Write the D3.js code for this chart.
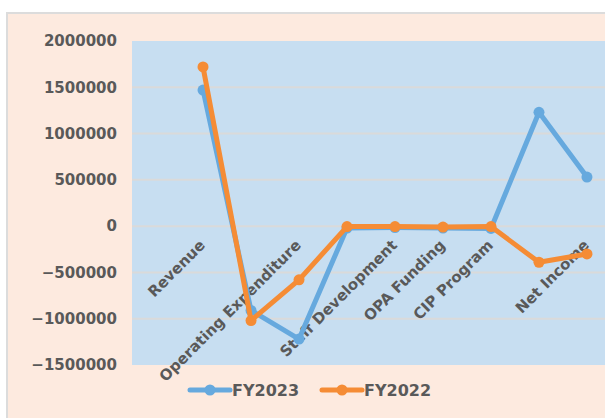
<!DOCTYPE html>
<html>
<head>
<meta charset="utf-8">
<script src="https://cdn.jsdelivr.net/npm/d3@7"></script>
<style>
  body { margin: 0; background: #fff; }
  svg { display: block; }
</style>
</head>
<body>
<svg></svg>
<script>
var categories = ['Revenue', '', 'Operating Expenditure', '', 'Staff Development', 'OPA Funding', 'CIP Program', '', 'Net Income'];
var fy2023 = [1470000, -910000, -1220000, -20000, -15000, -20000, -25000, 1230000, 530000];
var fy2022 = [1720000, -1020000, -580000, -5000, -5000, -10000, -5000, -390000, -300000];
var yTicks = [2000000, 1500000, 1000000, 500000, 0, -500000, -1000000, -1500000];
var seriesNames = ['FY2023', 'FY2022'];

var width = 605, height = 418;
var svg = d3.select('svg').attr('width', width).attr('height', height);

var colors = ['#66A9DE', '#F58C35'];
var textColor = '#595959';

// chart frame (cropped on the right and bottom)
svg.append('rect')
	.attr('x', 7).attr('y', 13)
	.attr('width', 620).attr('height', 420)
	.attr('fill', '#FDEADF')
	.attr('stroke', '#DCDCDC')
	.attr('stroke-width', 2);

var plot = { left: 132, top: 41, right: 658, bottom: 365 };

var x = d3.scalePoint()
	.domain(d3.range(categories.length))
	.range([plot.left, plot.right])
	.padding(1.48);

var y = d3.scaleLinear()
	.domain([-1500000, 2000000])
	.range([plot.bottom, plot.top]);

svg.append('rect')
	.attr('x', plot.left).attr('y', plot.top)
	.attr('width', plot.right - plot.left).attr('height', plot.bottom - plot.top)
	.attr('fill', '#C7DEF1');

// gridlines
svg.append('g')
	.selectAll('line')
	.data(yTicks.filter(function(d) { return d !== 2000000 && d !== -1500000; }))
	.enter()
	.append('line')
	.attr('x1', plot.left).attr('x2', plot.right)
	.attr('y1', function(d) { return y(d); })
	.attr('y2', function(d) { return y(d); })
	.attr('stroke', '#DADADA')
	.attr('stroke-width', 2);

// y axis labels
var yAxis = d3.axisLeft(y).tickValues(yTicks).tickSize(0).tickPadding(15).tickFormat(d3.format('d'));
svg.append('g')
	.attr('transform', 'translate(' + plot.left + ',0)')
	.call(yAxis)
	.call(function(g) { g.select('.domain').remove(); })
	.selectAll('text')
	.attr('fill', textColor)
	.style('font-family', 'DejaVu Sans, Verdana, sans-serif')
	.style('font-weight', 'bold')
	.style('font-size', '15px');

// category labels next to the zero line
svg.append('g')
	.selectAll('text')
	.data(categories)
	.enter()
	.append('text')
	.attr('transform', function(d, i) {
		return 'translate(' + (x(i) + 3) + ',' + (y(0) + 20) + ') rotate(-45)';
	})
	.attr('text-anchor', 'end')
	.attr('fill', textColor)
	.style('font-family', 'DejaVu Sans, Verdana, sans-serif')
	.style('font-weight', 'bold')
	.style('font-size', '15px')
	.text(function(d) { return d; });

// series
var line = d3.line()
	.x(function(d, i) { return x(i); })
	.y(function(d) { return y(d); });

[fy2023, fy2022].forEach(function(series, s) {
	var g = svg.append('g');
	g.append('path')
		.datum(series)
		.attr('d', line)
		.attr('fill', 'none')
		.attr('stroke', colors[s])
		.attr('stroke-width', 5)
		.attr('stroke-linejoin', 'round');
	g.selectAll('circle')
		.data(series)
		.enter()
		.append('circle')
		.attr('cx', function(d, i) { return x(i); })
		.attr('cy', function(d) { return y(d); })
		.attr('r', 5.5)
		.attr('fill', colors[s]);
});

// legend
var legend = svg.append('g').attr('transform', 'translate(190,390)');
seriesNames.forEach(function(name, i) {
	var item = legend.append('g').attr('transform', 'translate(' + (i * 132) + ',0)');
	item.append('line')
		.attr('x1', 0).attr('x2', 40)
		.attr('stroke', colors[i])
		.attr('stroke-width', 5)
		.attr('stroke-linecap', 'round');
	item.append('circle').attr('cx', 20).attr('r', 5.5).attr('fill', colors[i]);
	item.append('text')
		.attr('x', 42)
		.attr('dy', '0.36em')
		.attr('fill', textColor)
		.style('font-family', 'DejaVu Sans, Verdana, sans-serif')
		.style('font-weight', 'bold')
		.style('font-size', '16px')
		.text(name);
});
</script>
</body>
</html>
